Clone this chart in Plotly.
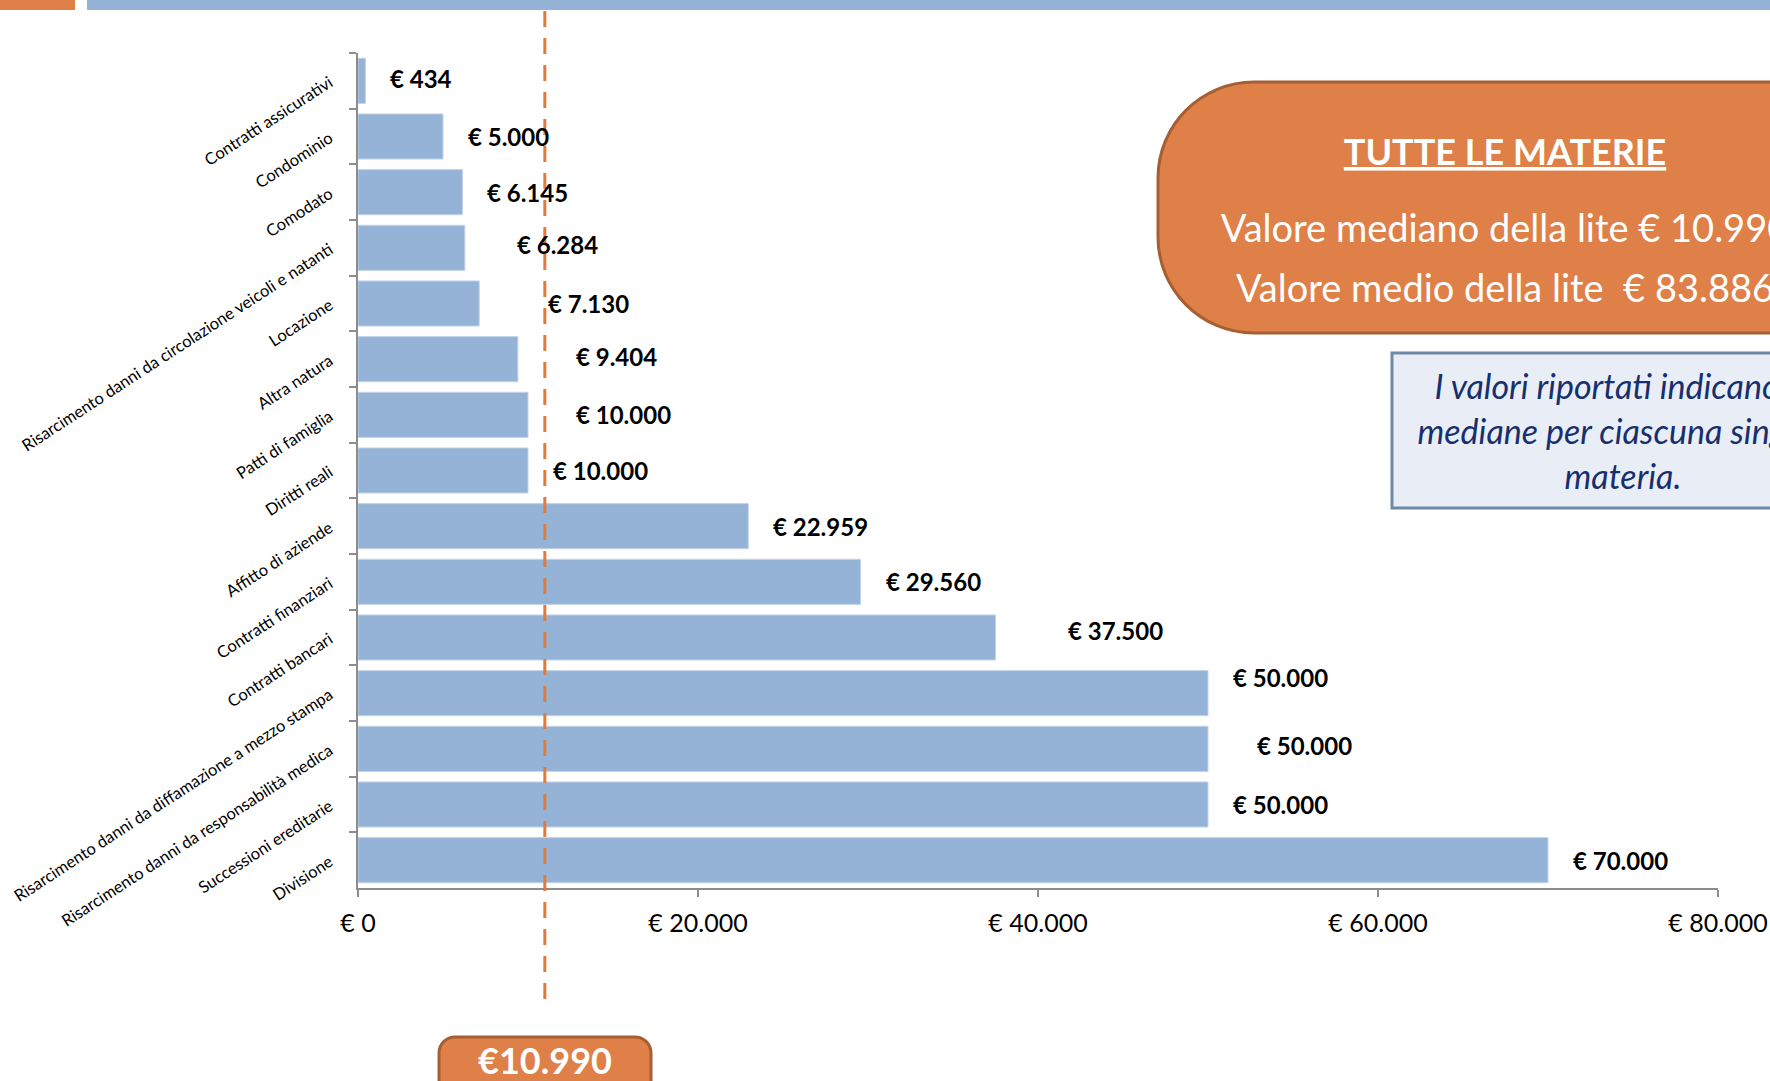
import plotly.graph_objects as go

# ---------------- data ----------------
categories = [
    "Contratti assicurativi",
    "Condominio",
    "Comodato",
    "Risarcimento danni da circolazione veicoli e natanti",
    "Locazione",
    "Altra natura",
    "Patti di famiglia",
    "Diritti reali",
    "Affitto di aziende",
    "Contratti finanziari",
    "Contratti bancari",
    "Risarcimento danni da diffamazione a mezzo stampa",
    "Risarcimento danni da responsabilità medica",
    "Successioni ereditarie",
    "Divisione",
]
values = [434, 5000, 6145, 6284, 7130, 9404, 10000, 10000, 22959, 29560,
          37500, 50000, 50000, 50000, 70000]
x_tick_vals = [0, 20000, 40000, 60000, 80000]
x_tick_text = ["€ 0", "€ 20.000", "€ 40.000", "€ 60.000", "€ 80.000"]
median_value = 10990
median_label = "€10.990"
box_title = "TUTTE LE MATERIE"
box_lines = ["Valore mediano della lite € 10.990",
             "Valore medio della lite  € 83.886"]
note_lines = ["I valori riportati indicano le",
              "mediane per ciascuna singola",
              "materia."]

# ---------------- style / layout tweaks ----------------
label_dx = [23, 23, 23, 50, 67, 56, 46, 23, 23, 23, 70, 23, 47, 23, 23]
label_dy = [2, 0, 0, 3, 0, 3, 0, 0, 0, 0, 7, 16, 3, 0, 0]

W, H = 1770, 1081
L, R, T, B = 358, 1718, 53, 888
BAR = "#95B3D7"
ORANGE = "#DE8048"
ORANGE_DARK = "#A65E33"
FONT = "Lato"


def rrect(x0, y0, x1, y1, rl, rr):
    k = 0.5523

    def pt(x, y):
        return f"{x:.2f},{y:.2f}"
    p = f"M {pt(x0 + rl, y0)} L {pt(x1 - rr, y0)} "
    if rr > 0:
        p += f"C {pt(x1 - rr + k * rr, y0)} {pt(x1, y0 + rr - k * rr)} {pt(x1, y0 + rr)} "
    p += f"L {pt(x1, y1 - rr)} "
    if rr > 0:
        p += f"C {pt(x1, y1 - rr + k * rr)} {pt(x1 - rr + k * rr, y1)} {pt(x1 - rr, y1)} "
    p += f"L {pt(x0 + rl, y1)} "
    p += f"C {pt(x0 + rl - k * rl, y1)} {pt(x0, y1 - rl + k * rl)} {pt(x0, y1 - rl)} "
    p += f"L {pt(x0, y0 + rl)} "
    p += f"C {pt(x0, y0 + rl - k * rl)} {pt(x0 + rl - k * rl, y0)} {pt(x0 + rl, y0)} Z"
    return p


def fmt(v):
    return "€ " + f"{v:,}".replace(",", ".")


fig = go.Figure()
fig.add_trace(go.Bar(
    x=values, y=categories, orientation="h",
    marker=dict(color=BAR, line=dict(color="#C3D3E8", width=1)),
    hoverinfo="x+y",
))


def text_trace(x, y, txt, size, color, weight="normal", style="normal"):
    return go.Scatter(x=x, y=y, text=txt, mode="text", xaxis="x2", yaxis="y2",
                      textposition="middle center", cliponaxis=True,
                      hoverinfo="skip", showlegend=False,
                      textfont=dict(family=FONT, size=size, color=color,
                                    weight=weight, style=style))


# box texts on a full-page pixel overlay
fig.add_trace(text_trace([1505], [156], [f"<u>{box_title}</u>"], 36, "white",
                         weight="bold"))
fig.add_trace(text_trace([1505, 1505], [232, 292], box_lines, 38, "white"))
fig.add_trace(text_trace([1623, 1623, 1623], [390, 435, 480],
                         [f"<i>{t}</i>" for t in note_lines], 34, "#172F6E",
                         style="italic"))
fig.add_trace(text_trace([545], [1065], [median_label], 36, "white",
                         weight="bold"))

shapes = [
    # top strip
    dict(type="rect", xref="x2", yref="y2", x0=-5, x1=75, y0=-5, y1=10,
         fillcolor=ORANGE, line=dict(width=0), layer="below"),
    dict(type="rect", xref="x2", yref="y2", x0=87, x1=1800, y0=-5, y1=10,
         fillcolor=BAR, line=dict(width=0), layer="below"),
    # big orange box
    dict(type="path", xref="x2", yref="y2",
         path=rrect(1158, 82, 1850, 333, 96, 0),
         fillcolor=ORANGE, line=dict(color=ORANGE_DARK, width=3), layer="below"),
    # note box
    dict(type="rect", xref="x2", yref="y2", x0=1392, x1=1850, y0=353, y1=508,
         fillcolor="#E9EEF6", line=dict(color="#6E89A5", width=3), layer="below"),
    # small median box
    dict(type="path", xref="x2", yref="y2",
         path=rrect(439, 1037, 651, 1110, 16, 16),
         fillcolor=ORANGE, line=dict(color=ORANGE_DARK, width=3), layer="below"),
    # median dashed line
    dict(type="line", xref="x", yref="y2",
         x0=median_value, x1=median_value, y0=11, y1=1002,
         line=dict(color="#E07B3C", width=3, dash="16px,11px"), layer="above"),
]

annotations = []
for c, v, dx, dy in zip(categories, values, label_dx, label_dy):
    annotations.append(dict(x=v, y=c, xref="x", yref="y", text=fmt(v),
                            showarrow=False, xanchor="left", yanchor="middle",
                            xshift=dx, yshift=dy,
                            font=dict(family=FONT, size=24, color="black",
                                      weight="bold")))

fig.update_layout(
    width=W, height=H,
    margin=dict(l=0, r=0, t=0, b=0, pad=0, autoexpand=False),
    paper_bgcolor="white", plot_bgcolor="rgba(0,0,0,0)",
    showlegend=False, bargap=0.19,
    shapes=shapes, annotations=annotations,
    font=dict(family=FONT, color="black"),
    xaxis=dict(domain=[L / W, R / W], anchor="y", automargin=False,
               range=[0, 80000], tickvals=x_tick_vals, ticktext=x_tick_text,
               showgrid=False, zeroline=False, showline=True,
               linecolor="#8C8C8C", linewidth=2, ticks="outside", ticklen=7,
               tickcolor="#8C8C8C", tickwidth=1.5,
               tickfont=dict(family=FONT, size=25, color="black"),
               ticklabelstandoff=5),
    yaxis=dict(domain=[(H - B) / H, (H - T) / H], anchor="x", automargin=False,
               type="category", categoryorder="array", categoryarray=categories,
               range=[len(categories) - 0.5, -0.5], showgrid=False,
               zeroline=False, showline=True, linecolor="#8C8C8C", linewidth=2,
               ticks="outside", ticklen=7, tickcolor="#8C8C8C", tickwidth=1.5,
               tickson="boundaries", tickangle=-33,
               tickfont=dict(family=FONT, size=16.5, color="black"),
               ticklabelstandoff=23),
    xaxis2=dict(domain=[0, 1], range=[0, W], anchor="y2", visible=False,
                fixedrange=True, automargin=False),
    yaxis2=dict(domain=[0, 1], range=[H, 0], anchor="x2", visible=False,
                fixedrange=True, automargin=False),
)

fig.write_html("out.html", config={"displayModeBar": False},
               post_script="document.body.style.margin='0';"
                           "document.body.style.overflow='hidden';")
